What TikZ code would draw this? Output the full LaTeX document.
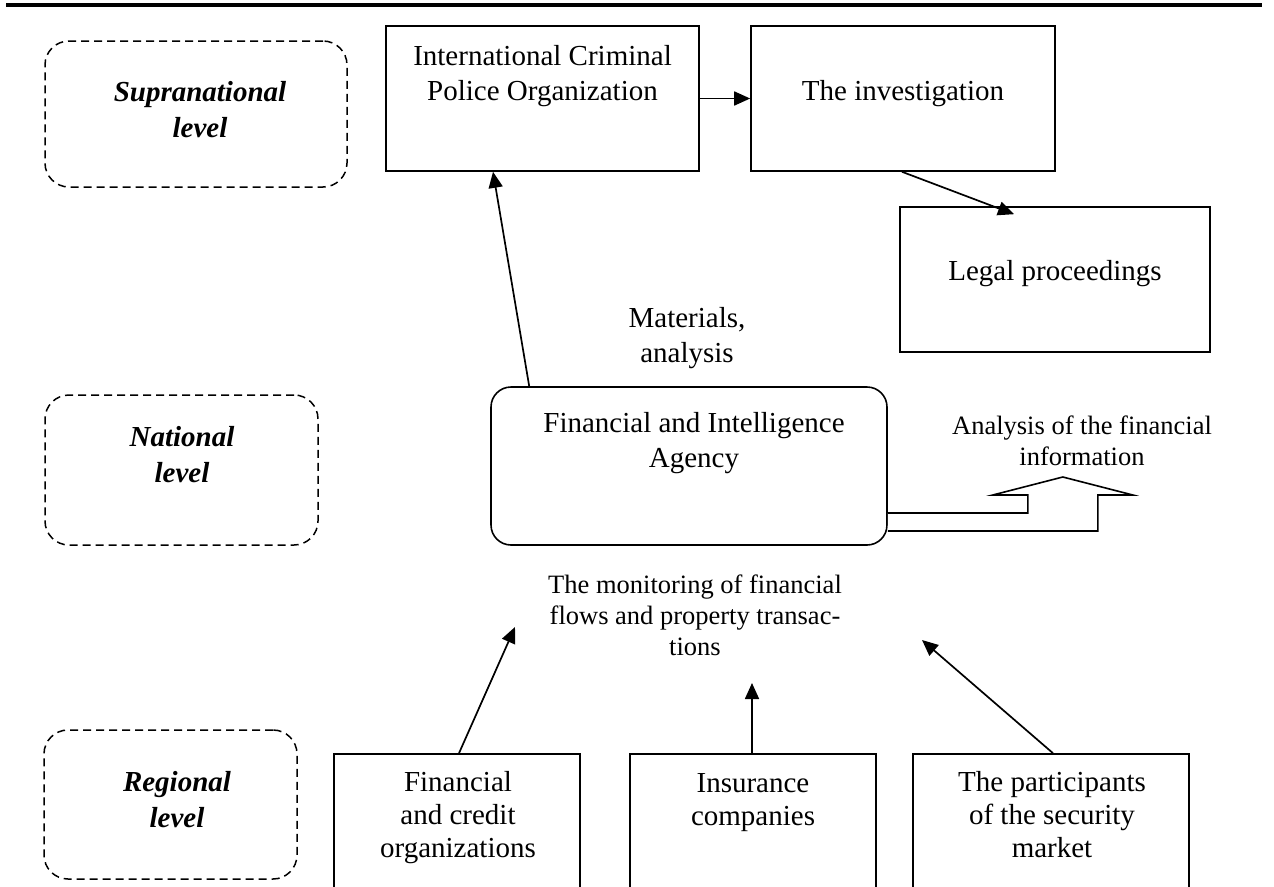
\documentclass[tikz,border=0pt]{standalone}
\usepackage{fontspec}
\setmainfont{Liberation Serif}
\usetikzlibrary{arrows.meta,calc}
\begin{document}
\begin{tikzpicture}[x=1pt,y=-1pt,
  box/.style={draw, line width=1.6pt, inner sep=0pt},
  lvl/.style={draw, dash pattern=on 8pt off 5pt, line width=1.5pt, rounded corners=24pt, inner sep=0pt},
  txt/.style={font=\fontsize{29}{35}\selectfont, align=center, inner sep=0pt, anchor=base},
  btxt/.style={font=\fontsize{29}{33}\selectfont, align=center, inner sep=0pt, anchor=base},
  stxt/.style={font=\fontsize{26.5}{31}\selectfont, align=center, inner sep=0pt, anchor=base},
  ltxt/.style={font=\bfseries\itshape\fontsize{29}{36}\selectfont, align=center, inner sep=0pt, anchor=base},
  arr/.style={-{Triangle[length=16pt,width=14pt]}, line width=1.7pt},
]
\clip (0,0) rectangle (1274,886);
\fill[white] (0,0) rectangle (1274,886);
% top rule
\coordinate (ruleL) at (6,5);
\coordinate (ruleR) at (1262,5);
\draw[line width=4pt] (ruleL) -- (ruleR);

% level boxes (text nodes placed at the baseline of their last line)
\node[lvl, minimum width=302pt, minimum height=146pt] (supra) at (196,114) {};
\node[ltxt] (supra-t) at (200,137) {Supranational\\level};
\node[lvl, minimum width=273pt, minimum height=150pt] (nat) at (181.5,470) {};
\node[ltxt] (nat-t) at (182,482) {National\\level};
\node[lvl, minimum width=253pt, minimum height=149pt] (reg) at (170.5,804.5) {};
\node[ltxt] (reg-t) at (177,827) {Regional\\level};

% supranational boxes
\node[box, minimum width=313pt, minimum height=145pt] (icpo) at (542.5,98.5) {};
\node[txt] (icpo-t) at (542.5,100) {International Criminal\\Police Organization};
\node[box, minimum width=304pt, minimum height=145pt] (inv) at (903,98.5) {};
\node[txt] (inv-t) at (903,100) {The investigation};
\node[box, minimum width=310pt, minimum height=145pt] (legal) at (1055,279.5) {};
\node[txt] (legal-t) at (1055,280) {Legal proceedings};

% national
\node[txt] (mat) at (687,362) {Materials,\\analysis};
\node[box, rounded corners=20pt, minimum width=396pt, minimum height=158pt] (fia) at (689,466) {};
\node[txt] (fia-t) at (694,467) {Financial and Intelligence\\Agency};
\node[stxt] (ana) at (1082,465) {Analysis of the financial\\information};
\node[stxt] (mon) at (695,655) {The monitoring of financial\\flows and property transac-\\tions};

% regional boxes
\node[box, minimum width=246pt, minimum height=151pt] (fin) at (457,829.5) {};
\node[btxt] (fin-t) at (458,857) {Financial\\and credit\\organizations};
\node[box, minimum width=246pt, minimum height=151pt] (ins) at (753,829.5) {};
\node[btxt] (ins-t) at (753,825) {Insurance\\companies};
\node[box, minimum width=276pt, minimum height=151pt] (part) at (1051,829.5) {};
\node[btxt] (part-t) at (1052,857) {The participants\\of the security\\market};

% free ends
\coordinate (finEnd) at (515,627);
\coordinate (insEnd) at (752,683);
\coordinate (partEnd) at (922,640);

% connectors
\draw[arr] (icpo.east) -- (inv.west);
\draw[arr] ([xshift=-1pt]inv.south) -- ([xshift=-41pt,yshift=-8pt]legal.north);
\draw[arr] ([xshift=39pt]fia.north west) -- ([xshift=-49.5pt]icpo.south);
\draw[arr] ([xshift=2pt]fin.north) -- (finEnd);
\draw[arr] ([xshift=-1pt]ins.north) -- (insEnd);
\draw[arr] ([xshift=2pt]part.north) -- (partEnd);

% hollow block arrow
\draw[line width=1.6pt, line join=miter, fill=white]
  ([yshift=-47pt]fia.east) -- ++(140,0) -- ++(0,-18) -- ++(-35,0) -- ++(70,-18)
  -- ++(70,18) -- ++(-35,0) -- ++(0,36) -- ([yshift=-65pt]fia.east);
\end{tikzpicture}
\end{document}
